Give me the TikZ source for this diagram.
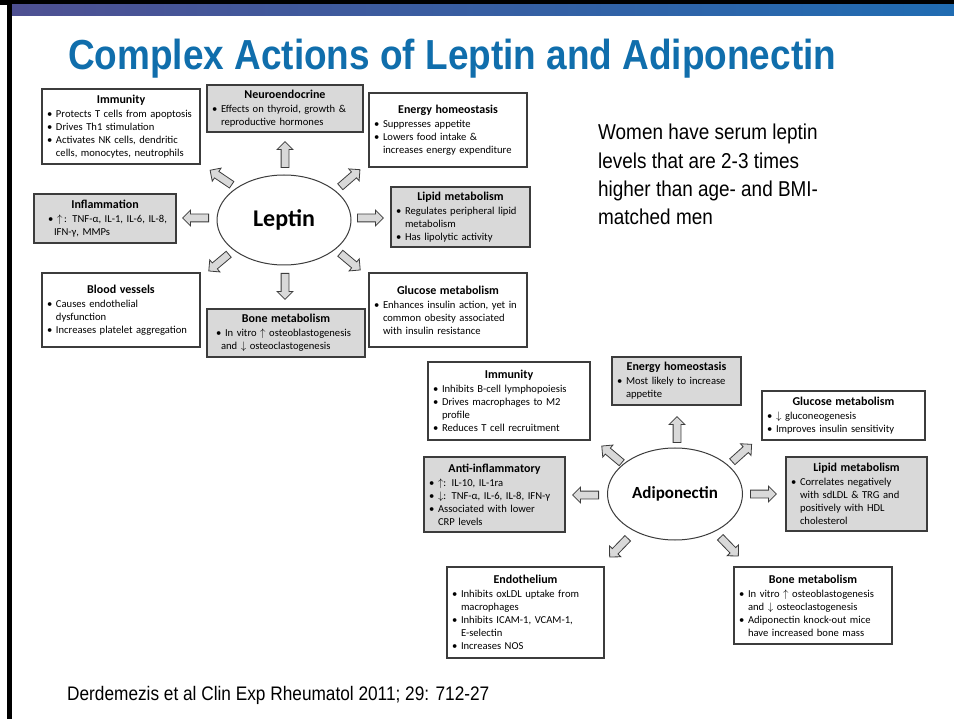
\documentclass[tikz,border=0pt]{standalone}
\usepackage{fontspec}
\setmainfont[FakeStretch=0.88]{Liberation Sans}
\newfontfamily\boxfont{Carlito}
\usetikzlibrary{
  shapes.geometric,
  shapes.arrows,
  positioning,
}
\setlength{\parindent}{0pt}

\definecolor{slideblue}{RGB}{16,110,172}
\definecolor{barleft}{RGB}{78,80,146}
\definecolor{barmid}{RGB}{8,160,218}
\definecolor{barright}{RGB}{32,108,178}
\definecolor{boxgrey}{RGB}{217,217,217}
\definecolor{boxline}{RGB}{60,60,60}

\tikzstyle{whitebox} = [
  draw=boxline,
  line width=1.2pt,
  fill=white,
  inner xsep=5pt,
  inner ysep=2pt,
  align=left,
  font=\boxfont\fontsize{10.6}{13}\selectfont,
]
\tikzstyle{greybox} = [whitebox, fill=boxgrey]
\tikzstyle{hub} = [
  ellipse,
  draw=boxline,
  line width=1pt,
  fill=white,
  inner sep=0pt,
]
\tikzstyle{blockarrow} = [
  single arrow,
  draw=boxline,
  line width=0.8pt,
  fill=boxgrey,
  inner sep=0pt,
  inner ysep=3.5pt,
  minimum height=26pt,
  single arrow head extend=4pt,
  anchor=tail,
]

\newcommand\bul{\makebox[9pt][l]{\textbullet}}
\newcommand\cont{\hspace*{9pt}}
\newcommand\hd[1]{\makebox[\hsize]{\fontsize{12}{14}\selectfont\bfseries #1}\\[1pt]}
\newcommand\uparr{$\uparrow$}
\newcommand\dnarr{$\downarrow$}

\begin{document}
\begin{tikzpicture}[x=1pt, y=1pt]

        \useasboundingbox (0,0) rectangle (954,-719);
        \fill [white] (0,0) rectangle (954,-719);

        %% slide frame
        \fill [black] (0,0) rectangle (954,-5);
        \fill [black] (7,0) rectangle (12,-719);
        \shade [left color=barleft, middle color=barmid, right color=barright] (12,-5) rectangle (954,-16);

        \node [anchor=base west, inner sep=0pt, text=slideblue, font=\fontsize{42}{46}\selectfont\bfseries] (title) at (68,-70) {Complex Actions of Leptin and Adiponectin};

        \node [anchor=north west, inner sep=0pt, align=left, font=\fontsize{21.5}{28.3}\selectfont] (note) at (598,-124) {Women have serum leptin\\levels that are 2-3 times\\higher than age- and BMI-\\matched men};

        \node [anchor=base west, inner sep=0pt, font=\fontsize{19.6}{22}\selectfont] (cite) at (67,-700) {Derdemezis et al Clin Exp Rheumatol 2011; 29: 712-27};

        %% leptin
        \node [hub, minimum width=134pt, minimum height=90pt, font=\boxfont\fontsize{24}{28}\selectfont\bfseries] (lep) at (284,-220) {Leptin};

        \node [whitebox, text width=148pt, minimum height=75pt] (limm) at (121,-126.5) {\hd{Immunity}
          \bul Protects T cells from apoptosis\\
          \bul Drives Th1 stimulation\\
          \bul Activates NK cells, dendritic\\
          \cont cells, monocytes, neutrophils};

        \node [greybox, text width=146pt, minimum height=47pt] (lneu) at (285,-108.5) {\hd{Neuroendocrine}
          \bul Effects on thyroid, growth \&\\
          \cont reproductive hormones};

        \node [whitebox, text width=148pt, minimum height=74pt] (lene) at (448,-130) {\hd{Energy homeostasis}
          \bul Suppresses appetite\\
          \bul Lowers food intake \&\\
          \cont increases energy expenditure};

        \node [greybox, text width=132pt, minimum height=49pt] (linf) at (105,-218.5) {\hd{Inflammation}
          \hspace*{9pt}\bul \uparr\,: TNF-α, IL-1, IL-6, IL-8,\\
          \hspace*{15pt}IFN-γ, MMPs};

        \node [greybox, text width=129pt, minimum height=60pt] (llip) at (460.5,-217) {\hd{Lipid metabolism}
          \bul Regulates peripheral lipid\\
          \cont metabolism\\
          \bul Has lipolytic activity};

        \node [whitebox, text width=148pt, minimum height=74pt] (lbld) at (121,-310) {\hd{Blood vessels}
          \bul Causes endothelial\\
          \cont dysfunction\\
          \bul Increases platelet aggregation};

        \node [greybox, text width=148pt, minimum height=48pt] (lbon) at (286,-333) {\hd{Bone metabolism}
          \hspace*{4pt}\bul In vitro \uparr\ osteoblastogenesis\\
          \hspace*{9pt}and \dnarr\ osteoclastogenesis};

        \node [whitebox, text width=148pt, minimum height=74pt] (lglu) at (448,-310) {\hd{Glucose metabolism}
          \bul Enhances insulin action, yet in\\
          \cont common obesity associated\\
          \cont with insulin resistance};

        \foreach \ang/\ax/\ay [count=\i] in {90/285/-168, 146/232/-185, 41/340/-187, 180/209/-218, 0/357/-218, 220/229/-254, 270/285/-273, 320/340/-253} {
          \node [blockarrow, rotate=\ang] (larr\i) at (\ax,\ay) {};
        }

        %% adiponectin
        \node [hub, minimum width=135pt, minimum height=92pt, font=\boxfont\fontsize{17}{20}\selectfont\bfseries] (adi) at (675,-494) {Adiponectin};

        \node [whitebox, text width=152pt, minimum height=78pt] (aimm) at (509,-401) {\hd{Immunity}
          \bul Inhibits B-cell lymphopoiesis\\
          \bul Drives macrophages to M2\\
          \cont profile\\
          \bul Reduces T cell recruitment};

        \node [greybox, text width=119pt, minimum height=48pt] (aene) at (676.5,-381) {\hd{Energy homeostasis}
          \bul Most likely to increase\\
          \cont appetite};

        \node [whitebox, text width=153pt, minimum height=49pt] (aglu) at (843.5,-415.5) {\hd{Glucose metabolism}
          \bul \dnarr\ gluconeogenesis\\
          \bul Improves insulin sensitivity};

        \node [greybox, text width=131pt, minimum height=75pt] (aant) at (494.5,-494.5) {\hd{Anti-inflammatory}
          \bul \uparr: IL-10, IL-1ra\\
          \bul \dnarr: TNF-α, IL-6, IL-8, IFN-γ\\
          \bul Associated with lower\\
          \cont CRP levels};

        \node [greybox, text width=131pt, minimum height=74pt] (alip) at (856.5,-494) {\hd{Lipid metabolism}
          \bul Correlates negatively\\
          \cont with sdLDL \& TRG and\\
          \cont positively with HDL\\
          \cont cholesterol};

        \node [whitebox, text width=147pt, minimum height=91pt] (aend) at (525.5,-612.5) {\hd{Endothelium}
          \bul Inhibits oxLDL uptake from\\
          \cont macrophages\\
          \bul Inhibits ICAM-1, VCAM-1,\\
          \cont E-selectin\\
          \bul Increases NOS};

        \node [whitebox, text width=148pt, minimum height=77pt] (abon) at (813,-605.5) {\hd{Bone metabolism}
          \bul In vitro \uparr\ osteoblastogenesis\\
          \cont and \dnarr\ osteoclastogenesis\\
          \bul Adiponectin knock-out mice\\
          \cont have increased bone mass};

        \foreach \ang/\ax/\ay [count=\i] in {90/677/-443, 140/622/-463, 180/599/-495, 226/628/-538, 42/732/-462, 0/750/-494, 314/720/-537} {
          \node [blockarrow, rotate=\ang] (aarr\i) at (\ax,\ay) {};
        }
      \end{tikzpicture}
\end{document}
